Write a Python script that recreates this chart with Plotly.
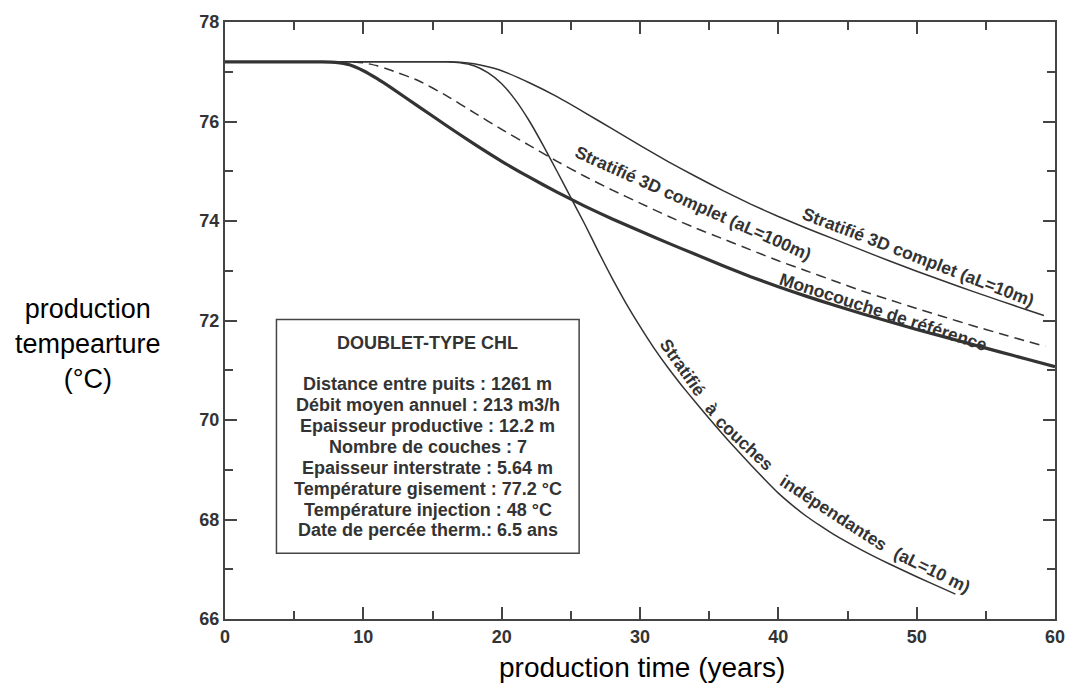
import plotly.graph_objects as go

# ---------------- data ----------------
mono_x = [0, 2, 4, 6, 7, 8, 9, 10, 11, 12, 14, 16, 18, 20, 22, 24, 26, 28, 30, 32, 34, 36,
          38, 40, 42, 44, 46, 48, 50, 52, 54, 56, 58, 60]
mono_y = [77.2, 77.2, 77.2, 77.2, 77.2, 77.19, 77.14, 77.02, 76.86, 76.68, 76.3, 75.92,
          75.55, 75.2, 74.88, 74.58, 74.3, 74.04, 73.8, 73.56, 73.33, 73.1, 72.88, 72.68,
          72.49, 72.31, 72.14, 71.98, 71.82, 71.67, 71.52, 71.37, 71.22, 71.07]

al100_x = [0, 2, 4, 6, 8, 9, 10, 11, 12, 14, 16, 18, 20, 22, 24, 26, 28, 30, 32, 34, 36,
           38, 40, 42, 44, 46, 48, 50, 52, 54, 56, 58, 59.3]
al100_y = [77.2, 77.2, 77.2, 77.2, 77.2, 77.2, 77.18, 77.12, 77.03, 76.82, 76.52, 76.18,
           75.84, 75.52, 75.2, 74.9, 74.62, 74.36, 74.1, 73.86, 73.64, 73.42, 73.2, 73.0,
           72.8, 72.6, 72.42, 72.24, 72.07, 71.9, 71.74, 71.58, 71.48]

al10_x = [0, 2, 4, 6, 8, 10, 12, 14, 16, 17, 18, 19, 20, 22, 24, 26, 28, 30, 32, 34, 36,
          38, 40, 42, 44, 46, 48, 50, 52, 54, 56, 58, 59.2]
al10_y = [77.2, 77.2, 77.2, 77.2, 77.2, 77.2, 77.2, 77.2, 77.2, 77.19, 77.16, 77.1, 77.02,
          76.78, 76.5, 76.18, 75.85, 75.52, 75.2, 74.9, 74.61, 74.34, 74.09, 73.86, 73.64,
          73.42, 73.2, 72.99, 72.79, 72.59, 72.4, 72.21, 72.1]

indep_x = [0, 2, 4, 6, 8, 10, 12, 14, 15, 16, 17, 18, 19, 20, 21, 22, 23, 24, 25, 26, 27,
           28, 29, 30, 31, 32, 33, 34, 35, 36, 37, 38, 39, 40, 41, 42, 43, 44, 46, 48, 50,
           52, 52.8]
indep_y = [77.2, 77.2, 77.2, 77.2, 77.2, 77.2, 77.2, 77.2, 77.2, 77.2, 77.18, 77.12, 76.98,
           76.76, 76.43, 76.01, 75.52, 75.0, 74.47, 73.94, 73.38, 72.84, 72.34, 71.88,
           71.45, 71.06, 70.7, 70.36, 70.03, 69.71, 69.4, 69.1, 68.81, 68.53, 68.29,
           68.07, 67.88, 67.7, 67.39, 67.11, 66.85, 66.6, 66.5]

x_ticks = [0, 10, 20, 30, 40, 50, 60]
y_ticks = [66, 68, 70, 72, 74, 76, 78]

box_title = "DOUBLET-TYPE CHL"
box_lines = [
    "Distance entre puits : 1261 m",
    "Débit moyen annuel : 213 m3/h",
    "Epaisseur productive : 12.2 m",
    "Nombre de couches : 7",
    "Epaisseur interstrate : 5.64 m",
    "Température gisement : 77.2 °C",
    "Température injection : 48 °C",
    "Date de percée therm.: 6.5 ans",
]

lab_al100 = "Stratifié 3D complet (aL=100m)"
lab_al10 = "Stratifié 3D complet (aL=10m)"
lab_mono = "Monocouche de référence"
lab_indep_words = ["Stratifié", "à", "couches", "indépendantes", "(aL=10 m)"]

# ---------------- figure ----------------
INK = "#333333"
FONT = "Liberation Sans, Arial, Helvetica, sans-serif"
SM = 0.5

fig = go.Figure()
fig.add_trace(go.Scatter(x=al10_x, y=al10_y, mode="lines",
                         line=dict(color=INK, width=1.5, shape="spline", smoothing=SM)))
fig.add_trace(go.Scatter(x=indep_x, y=indep_y, mode="lines",
                         line=dict(color=INK, width=1.5, shape="spline", smoothing=SM)))
fig.add_trace(go.Scatter(x=al100_x, y=al100_y, mode="lines",
                         line=dict(color=INK, width=1.5, dash="10px,6px",
                                   shape="spline", smoothing=SM)))
fig.add_trace(go.Scatter(x=mono_x, y=mono_y, mode="lines",
                         line=dict(color=INK, width=3.2, shape="spline", smoothing=SM)))

# info box
fig.add_shape(type="rect", xref="x", yref="y", x0=3.72, x1=25.6, y0=67.32, y1=72.02,
              line=dict(color="#444444", width=1.5), fillcolor="white", layer="below")

box_cx = 14.66
fig.add_annotation(x=box_cx, y=71.54, xref="x", yref="y", text=box_title, showarrow=False,
                   font=dict(family=FONT, size=18, color=INK, weight="bold"))
for i, t in enumerate(box_lines):
    fig.add_annotation(x=box_cx, y=70.72 - i * 0.42, xref="x", yref="y", text=t,
                       showarrow=False,
                       font=dict(family=FONT, size=18, color=INK, weight="bold"))

lab_font = dict(family=FONT, size=17.5, color=INK, weight="bold")
fig.add_annotation(x=33.8, y=74.36, text=lab_al100, textangle=24, showarrow=False, font=lab_font)
fig.add_annotation(x=50.1, y=73.28, text=lab_al10, textangle=21, showarrow=False, font=lab_font)
fig.add_annotation(x=47.6, y=72.18, text=lab_mono, textangle=18, showarrow=False, font=lab_font)

indep_pos = [(33.05, 71.06, 55), (35.2, 70.22, 48), (37.55, 69.54, 43),
             (44.0, 68.14, 33), (51.1, 66.98, 26)]
for w, (px, py, ang) in zip(lab_indep_words, indep_pos):
    fig.add_annotation(x=px, y=py, text=w, textangle=ang, showarrow=False, font=lab_font)

# axis titles
fig.add_annotation(xref="paper", yref="paper", x=0.502, y=-0.082, text="production time (years)",
                   showarrow=False, xanchor="center", yanchor="middle",
                   font=dict(family=FONT, size=28, color="black"))
fig.add_annotation(xref="paper", yref="paper", x=-0.1645, y=0.46,
                   text="production<br>tempearture<br>(°C)", showarrow=False,
                   xanchor="center", yanchor="middle",
                   font=dict(family=FONT, size=27, color="black"))

axis_common = dict(showgrid=False, zeroline=False, showline=True, linecolor="#444444",
                   linewidth=2, mirror="ticks", ticks="inside", tickcolor="#444444",
                   tickwidth=2, ticklen=12,
                   tickfont=dict(family=FONT, size=18, color=INK, weight="bold"))

fig.update_xaxes(range=[0, 60], tickvals=x_ticks,
                 minor=dict(dtick=5, ticklen=8, ticks="inside", tickcolor="#444444", tickwidth=2),
                 **axis_common)
fig.update_yaxes(range=[66, 78], tickvals=y_ticks,
                 minor=dict(dtick=1, ticklen=8, ticks="inside", tickcolor="#444444", tickwidth=2),
                 **axis_common)

fig.update_layout(width=1077, height=683, showlegend=False,
                  margin=dict(l=225, r=13, t=19, b=64),
                  plot_bgcolor="white", paper_bgcolor="white")

fig.write_html("out.html")
